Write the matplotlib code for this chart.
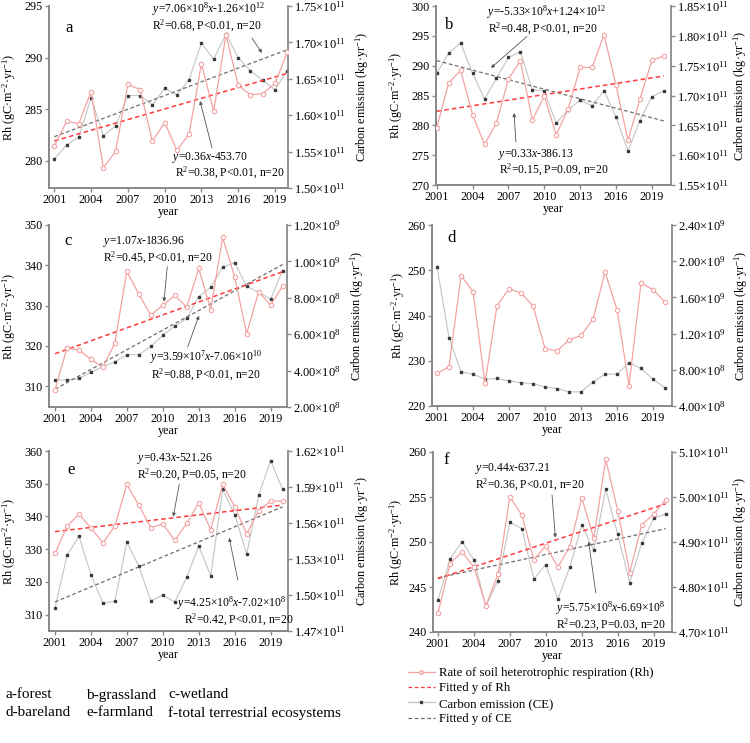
import matplotlib
matplotlib.use('Agg')
import matplotlib.pyplot as plt
import numpy as np
from matplotlib.ticker import FuncFormatter, FixedLocator
from matplotlib.lines import Line2D

plt.rcParams['font.family'] = ['Liberation Serif', 'DejaVu Serif']
plt.rcParams['mathtext.fontset'] = 'custom'
plt.rcParams['mathtext.rm'] = 'Liberation Serif'
plt.rcParams['mathtext.it'] = 'Liberation Serif:italic'
plt.rcParams['mathtext.bf'] = 'Liberation Serif:bold'

# ---------------- data ----------------
years = list(range(2001, 2021))
year_ticks = [2001, 2004, 2007, 2010, 2013, 2016, 2019]

rh_a = [281.4, 283.8, 283.6, 286.7, 279.3, 280.9, 287.4, 286.9, 281.9, 283.7,
        281.0, 282.6, 289.4, 284.8, 292.2, 287.3, 286.4, 286.5, 287.5, 290.5]
ce_a = [1.540e11, 1.559e11, 1.570e11, 1.624e11, 1.572e11, 1.585e11, 1.627e11, 1.627e11, 1.614e11, 1.637e11,
        1.628e11, 1.649e11, 1.699e11, 1.677e11, 1.711e11, 1.679e11, 1.661e11, 1.648e11, 1.635e11, 1.661e11]

rh_b = [279.6, 287.1, 289.2, 281.8, 276.8, 280.4, 287.8, 290.8, 280.9, 284.9,
        278.4, 282.8, 289.7, 289.7, 295.2, 286.7, 277.5, 284.4, 290.9, 291.6]
ce_b = [1.737e11, 1.771e11, 1.788e11, 1.737e11, 1.694e11, 1.729e11, 1.764e11, 1.773e11, 1.710e11, 1.707e11,
        1.654e11, 1.676e11, 1.692e11, 1.683e11, 1.708e11, 1.664e11, 1.607e11, 1.658e11, 1.698e11, 1.708e11]

rh_c = [309.1, 319.4, 319.0, 316.6, 314.7, 320.7, 338.5, 332.8, 327.6, 330.1,
        332.5, 329.6, 339.2, 329.0, 346.9, 337.1, 323.0, 333.4, 330.1, 334.8]
ce_c = [3.48e8, 3.48e8, 3.57e8, 3.91e8, 4.22e8, 4.48e8, 4.87e8, 4.87e8, 5.33e8, 5.94e8,
        6.44e8, 6.87e8, 8.06e8, 8.57e8, 9.69e8, 9.93e8, 8.63e8, 8.30e8, 7.93e8, 9.50e8]

rh_d = [227.2, 228.7, 248.8, 245.3, 225.0, 242.2, 245.9, 245.0, 242.1, 232.7,
        232.2, 234.6, 235.6, 239.2, 249.6, 241.3, 224.5, 247.2, 245.7, 243.0]
ce_d = [1.933e9, 1.156e9, 7.78e8, 7.52e8, 6.96e8, 7.04e8, 6.78e8, 6.56e8, 6.48e8, 6.11e8,
        5.93e8, 5.56e8, 5.56e8, 6.67e8, 7.52e8, 7.52e8, 8.78e8, 8.15e8, 6.96e8, 6.00e8]

rh_e = [328.7, 337.0, 340.7, 336.5, 331.9, 337.1, 349.8, 343.4, 336.6, 337.7,
        332.7, 337.9, 344.1, 335.9, 349.8, 343.0, 334.7, 341.7, 344.7, 344.7]
ce_e = [1.489e11, 1.533e11, 1.549e11, 1.517e11, 1.493e11, 1.495e11, 1.544e11, 1.524e11, 1.495e11, 1.500e11,
        1.494e11, 1.515e11, 1.541e11, 1.516e11, 1.588e11, 1.567e11, 1.534e11, 1.583e11, 1.612e11, 1.588e11]

rh_f = [242.1, 247.6, 248.9, 247.2, 242.9, 246.4, 255.0, 253.0, 248.0, 249.6,
        247.2, 249.5, 254.9, 250.4, 259.2, 253.5, 246.6, 251.9, 253.1, 254.7]
ce_f = [4.771e11, 4.862e11, 4.901e11, 4.860e11, 4.758e11, 4.814e11, 4.944e11, 4.930e11, 4.818e11, 4.850e11,
        4.773e11, 4.844e11, 4.938e11, 4.882e11, 5.017e11, 4.917e11, 4.810e11, 4.897e11, 4.953e11, 4.962e11]

left_ticks_a = [280, 285, 290, 295]
left_ticks_b = [270, 275, 280, 285, 290, 295, 300]
left_ticks_c = [310, 320, 330, 340, 350]
left_ticks_d = [220, 230, 240, 250, 260]
left_ticks_e = [310, 320, 330, 340, 350, 360]
left_ticks_f = [240, 245, 250, 255, 260]
right_ticks_a = [1.50e11, 1.55e11, 1.60e11, 1.65e11, 1.70e11, 1.75e11]
right_ticks_b = [1.55e11, 1.60e11, 1.65e11, 1.70e11, 1.75e11, 1.80e11, 1.85e11]
right_ticks_c = [2e8, 4e8, 6e8, 8e8, 1.0e9, 1.2e9]
right_ticks_d = [4e8, 8e8, 1.2e9, 1.6e9, 2.0e9, 2.4e9]
right_ticks_e = [1.47e11, 1.50e11, 1.53e11, 1.56e11, 1.59e11, 1.62e11]
right_ticks_f = [4.7e11, 4.8e11, 4.9e11, 5.0e11, 5.1e11]

eq_a = [r"$\it{y}$=7.06×10$^{8}$$\it{x}$-1.26×10$^{12}$", r"R$^{2}$=0.68, P<0.01, n=20",
        r"$\it{y}$=0.36$\it{x}$-453.70", r"R$^{2}$=0.38, P<0.01, n=20"]
eq_b = [r"$\it{y}$=-5.33×10$^{8}$$\it{x}$+1.24×10$^{12}$", r"R$^{2}$=0.48, P<0.01, n=20",
        r"$\it{y}$=0.33$\it{x}$-386.13", r"R$^{2}$=0.15, P=0.09, n=20"]
eq_c = [r"$\it{y}$=1.07$\it{x}$-1836.96", r"R$^{2}$=0.45, P<0.01, n=20",
        r"$\it{y}$=3.59×10$^{7}$$\it{x}$-7.06×10$^{10}$", r"R$^{2}$=0.88, P<0.01, n=20"]
eq_e = [r"$\it{y}$=0.43$\it{x}$-521.26", r"R$^{2}$=0.20, P=0.05, n=20",
        r"$\it{y}$=4.25×10$^{8}$$\it{x}$-7.02×10$^{8}$", r"R$^{2}$=0.42, P<0.01, n=20"]
eq_f = [r"$\it{y}$=0.44$\it{x}$-637.21", r"R$^{2}$=0.36, P<0.01, n=20",
        r"$\it{y}$=5.75×10$^{8}$$\it{x}$-6.69×10$^{8}$", r"R$^{2}$=0.23, P=0.03, n=20"]

legend_labels = ["Rate of soil heterotrophic respiration (Rh)", "Fitted y of Rh",
                 "Carbon emission (CE)", "Fitted y of CE"]
land_labels = [["a-forest", "b-grassland", "c-wetland"],
               ["d-bareland", "e-farmland", "f-total terrestrial ecosystems"]]

# ---------------- style ----------------
W, H = 750, 743
RH_COL = '#f4a3a3'
RH_FIT = '#ff3b3b'
CE_COL = '#c4c4c4'
CE_MK = '#3a3a3a'
CE_FIT = '#6e6e6e'
SPINE = '#8a8a8a'
FS = 8.7
FS_EQ = 8.4

fig = plt.figure(figsize=(W / 100, H / 100), dpi=100)


def sci_fmt(v, pos=None):
    if v == 0:
        return "0"
    e = int(np.floor(np.log10(abs(v)) + 1e-9))
    m = v / 10 ** e
    return f"{m:.2f}×10$^{{{e}}}$"


def panel(box, xlim, ylim, lticks, rylim, rticks, rh, ce, letter, letter_pos,
          fit=True, eqs=None, eq_pos=None, arrows=None, ylab_x=-0.13, rlab_x=1.27):
    l, t, r, b = box
    ax = fig.add_axes([l / W, 1 - b / H, (r - l) / W, (b - t) / H])
    ax2 = ax.twinx()
    ax.set_zorder(ax2.get_zorder() + 1)
    ax.patch.set_visible(False)

    x = np.array(years, dtype=float)
    ax2.plot(x, ce, color=CE_COL, lw=0.8, marker='s', ms=1.5, mfc=CE_MK, mec=CE_MK, zorder=2)
    ax.plot(x, rh, color=RH_COL, lw=0.9, marker='o', ms=3.2, mfc='white', mec=RH_COL, mew=0.8, zorder=3)
    if fit:
        pc = np.polyfit(x, ce, 1)
        ax2.plot(x[[0, -1]], np.polyval(pc, x[[0, -1]]), color=CE_FIT, lw=0.9, ls=(0, (3, 2)))
        pr = np.polyfit(x, rh, 1)
        ax.plot(x[[0, -1]], np.polyval(pr, x[[0, -1]]), color=RH_FIT, lw=1.1, ls=(0, (3, 2)))

    ax.set_xlim(*xlim)
    ax.set_ylim(*ylim)
    ax2.set_ylim(*rylim)
    ax.xaxis.set_major_locator(FixedLocator(year_ticks))
    ax.yaxis.set_major_locator(FixedLocator(lticks))
    ax2.yaxis.set_major_locator(FixedLocator(rticks))
    ax2.yaxis.set_major_formatter(FuncFormatter(sci_fmt))

    for a in (ax, ax2):
        for s in a.spines.values():
            s.set_color(SPINE)
            s.set_linewidth(1.3)
        a.spines['top'].set_visible(False)
        a.tick_params(direction='out', length=3, width=1, color=SPINE, labelsize=FS, pad=1.5)
    ax.spines['right'].set_visible(False)
    ax2.tick_params(labelsize=9.0)

    ax.set_xlabel('year', fontsize=FS, labelpad=0)
    ax.set_ylabel(r"Rh (gC·m$^{-2}$·yr$^{-1}$)", fontsize=FS)
    ax.yaxis.set_label_coords(ylab_x, 0.5)
    ax2.set_ylabel(r"Carbon emission (kg·yr$^{-1}$)", fontsize=FS)
    ax2.yaxis.set_label_coords(rlab_x, 0.5)

    ax.text(letter_pos[0], letter_pos[1], letter, transform=ax.transAxes, fontsize=12,
            ha='left', va='center')
    if eqs:
        for s, p in zip(eqs, eq_pos):
            ax.text(p[0], p[1], s, transform=ax.transAxes, fontsize=FS_EQ, ha='left', va='center')
        for (s0, s1) in arrows:
            ax.annotate('', xy=s1, xytext=s0, xycoords='axes fraction', textcoords='axes fraction',
                        arrowprops=dict(arrowstyle='-|>', color='#555555', lw=0.6,
                                        mutation_scale=5, shrinkA=0, shrinkB=0))
    return ax


panel((49, 6, 288, 188), (2000.57, 2020.06), (277.35, 295), left_ticks_a, (1.50e11, 1.75e11), right_ticks_a,
      rh_a, ce_a, 'a', (0.07, 0.88), eqs=eq_a,
      eq_pos=[(0.43, 0.985), (0.43, 0.892), (0.515, 0.17), (0.527, 0.085)],
      arrows=[((0.849, 0.824), (0.891, 0.742)), ((0.682, 0.22), (0.632, 0.478))],
      ylab_x=-0.13, rlab_x=1.272)

panel((436, 6, 671, 185), (2000.94, 2020.6), (270, 300), left_ticks_b, (1.55e11, 1.85e11), right_ticks_b,
      rh_b, ce_b, 'b', (0.04, 0.894), eqs=eq_b,
      eq_pos=[(0.217, 0.968), (0.22, 0.874), (0.264, 0.168), (0.268, 0.086)],
      arrows=[((0.387, 0.83), (0.234, 0.654)), ((0.34, 0.24), (0.332, 0.402))],
      ylab_x=-0.132, rlab_x=1.255)

panel((49, 225, 287, 407), (2000.5, 2020.37), (304.8, 350), left_ticks_c, (2e8, 1.2e9), right_ticks_c,
      rh_c, ce_c, 'c', (0.065, 0.914), eqs=eq_c,
      eq_pos=[(0.228, 0.908), (0.228, 0.818), (0.424, 0.271), (0.429, 0.178)],
      arrows=[((0.497, 0.771), (0.483, 0.579)), ((0.583, 0.331), (0.630, 0.502))],
      ylab_x=-0.13, rlab_x=1.256)

panel((432, 225, 672, 406), (2000.58, 2020.58), (220, 260), left_ticks_d, (4e8, 2.4e9), right_ticks_d,
      rh_d, ce_d, 'd', (0.065, 0.928), fit=False,
      ylab_x=-0.104, rlab_x=1.25)

panel((49, 451, 288, 631), (2000.5, 2020.45), (305, 360), left_ticks_e, (1.47e11, 1.62e11), right_ticks_e,
      rh_e, ce_e, 'e', (0.077, 0.894), eqs=eq_e,
      eq_pos=[(0.367, 0.959), (0.367, 0.868), (0.534, 0.152), (0.566, 0.064)],
      arrows=[((0.545, 0.815), (0.52, 0.635)), ((0.79, 0.283), (0.754, 0.518))],
      ylab_x=-0.13, rlab_x=1.272)

panel((433, 452, 672, 632), (2000.58, 2020.53), (240, 260), left_ticks_f, (4.7e11, 5.1e11), right_ticks_f,
      rh_f, ce_f, 'f', (0.045, 0.956), eqs=eq_f,
      eq_pos=[(0.177, 0.909), (0.177, 0.818), (0.513, 0.13), (0.513, 0.042)],
      arrows=[((0.498, 0.761), (0.512, 0.524)), ((0.681, 0.218), (0.651, 0.502))],
      ylab_x=-0.117, rlab_x=1.248)

# bottom-left land type key
col_x = [6, 86, 168]
row_y = [695, 713]
for ri, row in enumerate(land_labels):
    for ci, s in enumerate(row):
        fig.text(col_x[ci] / W, 1 - row_y[ri] / H, s, fontsize=11, ha='left', va='center')

# legend
handles = [
    Line2D([], [], color=RH_COL, lw=0.9, marker='o', ms=2.5, mfc='white', mec=RH_COL),
    Line2D([], [], color=RH_FIT, lw=0.9, ls=(0, (3, 2))),
    Line2D([], [], color=CE_COL, lw=0.9, marker='s', ms=1.5, mfc=CE_MK, mec=CE_MK),
    Line2D([], [], color=CE_FIT, lw=0.9, ls=(0, (3, 2))),
]
fig.legend(handles, legend_labels, loc='upper left', bbox_to_anchor=(408 / W, 1 - 667 / H),
           frameon=False, fontsize=9.2, handlelength=2.1, handletextpad=0.35,
           labelspacing=0.27, borderaxespad=0, borderpad=0, numpoints=1)

fig.savefig('out.png', dpi=100)
